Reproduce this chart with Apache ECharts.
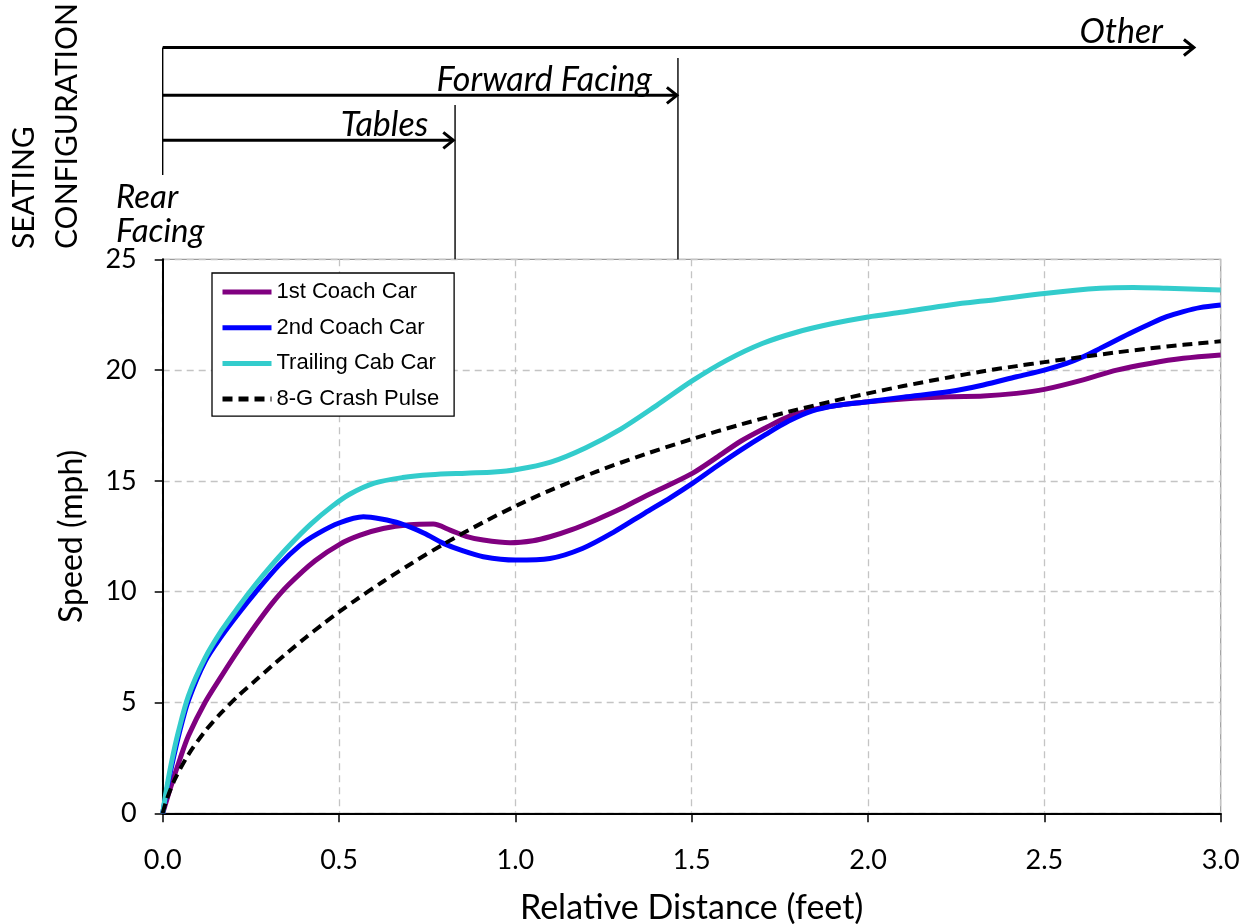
<!DOCTYPE html>
<html>
<head>
<meta charset="utf-8">
<script src="https://cdn.jsdelivr.net/npm/echarts@6/dist/echarts.min.js"></script>
<style>html,body{margin:0;padding:0;background:#fff}#c{width:1251px;height:924px}</style>
</head>
<body>
<div id="c"></div>
<script>
// ---- Data ----
const seriesNames = ['1st Coach Car', '2nd Coach Car', 'Trailing Cab Car', '8-G Crash Pulse'];

const coach1 = [[0,0],[0.021,1.1],[0.049,2.45],[0.073,3.5],[0.12,5.0],[0.167,6.2],[0.214,7.35],[0.262,8.45],[0.309,9.45],[0.356,10.3],[0.432,11.4],[0.503,12.15],[0.56,12.55],[0.625,12.85],[0.7,13.02],[0.767,13.05],[0.815,12.78],[0.86,12.5],[0.909,12.33],[0.985,12.21],[1.05,12.3],[1.098,12.48],[1.16,12.8],[1.23,13.25],[1.3,13.75],[1.367,14.3],[1.44,14.85],[1.503,15.35],[1.57,16.05],[1.64,16.8],[1.71,17.4],[1.775,17.9],[1.84,18.2],[1.91,18.4],[2.0,18.57],[2.1,18.7],[2.232,18.8],[2.327,18.83],[2.421,18.95],[2.5,19.13],[2.61,19.56],[2.705,20.0],[2.799,20.3],[2.894,20.53],[3.0,20.68]];

const coach2 = [[0,0],[0.01,0.9],[0.025,2.1],[0.049,3.75],[0.073,5.1],[0.12,6.85],[0.167,8.0],[0.214,9.0],[0.262,9.95],[0.33,11.2],[0.39,12.1],[0.437,12.6],[0.5,13.1],[0.569,13.38],[0.62,13.28],[0.673,13.08],[0.74,12.65],[0.796,12.18],[0.85,11.85],[0.909,11.58],[1.0,11.43],[1.098,11.5],[1.19,11.95],[1.28,12.7],[1.367,13.55],[1.44,14.25],[1.503,14.9],[1.57,15.65],[1.64,16.4],[1.71,17.1],[1.775,17.7],[1.84,18.15],[1.91,18.4],[2.0,18.57],[2.1,18.78],[2.232,19.03],[2.327,19.33],[2.421,19.7],[2.5,20.0],[2.563,20.3],[2.61,20.6],[2.658,20.98],[2.705,21.36],[2.752,21.73],[2.799,22.08],[2.847,22.41],[2.894,22.64],[2.941,22.82],[3.0,22.94]];

const cabCar = [[0,0],[0.011,1.1],[0.025,2.3],[0.044,3.65],[0.073,5.3],[0.12,7.0],[0.167,8.25],[0.214,9.3],[0.262,10.3],[0.309,11.2],[0.36,12.1],[0.42,13.05],[0.48,13.85],[0.53,14.4],[0.6,14.9],[0.68,15.15],[0.76,15.28],[0.86,15.35],[0.94,15.4],[1.0,15.5],[1.1,15.85],[1.2,16.5],[1.3,17.35],[1.4,18.4],[1.5,19.5],[1.6,20.45],[1.7,21.2],[1.8,21.72],[1.9,22.1],[2.0,22.4],[2.1,22.62],[2.232,22.94],[2.37,23.2],[2.5,23.46],[2.658,23.69],[2.752,23.73],[2.847,23.69],[3.0,23.61]];

const crashPulse = [[0,0],[0.011,0.6],[0.035,1.55],[0.073,2.65],[0.12,3.7],[0.167,4.55],[0.214,5.3],[0.262,5.98],[0.309,6.64],[0.356,7.28],[0.403,7.9],[0.451,8.5],[0.5,9.09],[0.545,9.6],[0.625,10.46],[0.71,11.32],[0.8,12.18],[0.91,13.14],[1.0,13.86],[1.095,14.55],[1.23,15.42],[1.367,16.2],[1.503,16.9],[1.64,17.55],[1.775,18.12],[1.9,18.6],[2.0,18.95],[2.1,19.28],[2.232,19.68],[2.327,19.95],[2.421,20.18],[2.5,20.36],[2.61,20.6],[2.705,20.8],[2.799,20.98],[2.894,21.14],[3.0,21.3]];

const xTicks = [0, 0.5, 1.0, 1.5, 2.0, 2.5, 3.0];
const yTicks = [0, 5, 10, 15, 20, 25];

// Seating configuration annotation (x in feet; level = distance from top of page band)
const seatLabels = ['Tables', 'Forward Facing', 'Other'];
const seatArrows = [[0, 0.824, 140.3], [0, 1.458, 95.3], [0, 2.924, 47.5]];
const seatDividers = [[0, 47.5, 175], [0.829, 105, 259.3], [1.461, 58, 259.3]];
const seatLabelGap = [25, 25, 31]; // style: pixel gap between label and arrow tip

const colors = ['#800080', '#0000FF', '#33CCCC', '#000000'];

const chart = echarts.init(document.getElementById('c'), null, {renderer: 'canvas'});

const gridLeft = 162.7, gridRight = 30.3;

const lineSeries = [coach1, coach2, cabCar, crashPulse].map((d, i) => ({
  name: seriesNames[i],
  type: 'line',
  xAxisIndex: 0, yAxisIndex: 0,
  data: d,
  smooth: 0.3,
  symbol: 'none',
  z: 3 + i,
  lineStyle: {
    color: colors[i],
    width: i === 3 ? 4 : 5,
    type: i === 3 ? [10, 6] : 'solid'
  },
  itemStyle: {color: colors[i]}
}));

const option = {
  animation: false,
  backgroundColor: '#fff',
  grid: [
    {left: gridLeft, right: gridRight, top: 259.3, bottom: 110.7, show: true, borderColor: '#9a9a9a', borderWidth: 1.2,
      containLabel: false, outerBoundsMode: 'none'},
    {left: gridLeft, right: gridRight, top: 0, height: 259.3, containLabel: false, outerBoundsMode: 'none'}
  ],
  xAxis: [
    {
      type: 'value', gridIndex: 0, min: 0, max: 3, interval: 0.5,
      name: 'Relative Distance (feet)', nameLocation: 'middle', nameGap: 78,
      nameTextStyle: {fontFamily: 'Lato', fontSize: 34, color: '#000'},
      axisLine: {show: true, onZero: false, lineStyle: {color: '#000', width: 2}},
      axisTick: {show: true, length: 9, lineStyle: {color: '#000', width: 1.5}},
      axisLabel: {margin: 33, fontFamily: 'Lato', fontSize: 27, color: '#000',
        formatter: v => xTicks.includes(v) ? v.toFixed(1) : ''},
      splitLine: {show: true, lineStyle: {color: '#c4c4c4', width: 1.3, type: [7, 5]}}
    },
    {type: 'value', gridIndex: 1, min: 0, max: 3, show: false}
  ],
  yAxis: [
    {
      type: 'value', gridIndex: 0, min: 0, max: 25, interval: 5,
      name: 'Speed (mph)', nameLocation: 'middle', nameGap: 75,
      nameTextStyle: {fontFamily: 'Lato', fontSize: 32, color: '#000'},
      axisLine: {show: true, lineStyle: {color: '#000', width: 2}},
      axisTick: {show: true, length: 8, lineStyle: {color: '#000', width: 1.5}},
      axisLabel: {margin: 26, fontFamily: 'Lato', fontSize: 27, color: '#000',
        formatter: v => yTicks.includes(v) ? String(v) : ''},
      splitLine: {show: true, lineStyle: {color: '#c4c4c4', width: 1.3, type: [7, 5]}}
    },
    {type: 'value', gridIndex: 1, min: 0, max: 259.3, inverse: true, show: false}
  ],
  legend: {
    data: seriesNames,
    orient: 'vertical',
    left: 212, top: 273,
    padding: [8, 15, 6, 8],
    itemWidth: 49, itemHeight: 14, itemGap: 13.7,
    borderColor: '#000', borderWidth: 1.3,
    backgroundColor: '#fff',
    itemStyle: {opacity: 0},
    lineStyle: {width: 5},
    textStyle: {fontFamily: 'Liberation Sans', fontSize: 22, lineHeight: 22, color: '#000'}
  },
  graphic: [
    {type: 'text', x: 24, y: 249, rotation: Math.PI / 2,
      style: {text: 'SEATING', font: '30px Lato', fill: '#000', align: 'left', verticalAlign: 'middle'}},
    {type: 'text', x: 67, y: 249, rotation: Math.PI / 2,
      style: {text: 'CONFIGURATION', font: '30px Lato', fill: '#000', align: 'left', verticalAlign: 'middle'}},
    {type: 'text', x: 116, y: 197, style: {text: 'Rear', font: 'italic 33px Lato', fill: '#000', align: 'left', verticalAlign: 'middle'}},
    {type: 'text', x: 116, y: 231, style: {text: 'Facing', font: 'italic 33px Lato', fill: '#000', align: 'left', verticalAlign: 'middle'}}
  ],
  series: lineSeries.concat([
    {
      type: 'custom', name: 'seatDividers', xAxisIndex: 1, yAxisIndex: 1,
      data: seatDividers, silent: true,
      renderItem: (params, api) => {
        const a = api.coord([api.value(0), api.value(1)]);
        const b = api.coord([api.value(0), api.value(2)]);
        return {type: 'line', shape: {x1: a[0], y1: a[1], x2: b[0], y2: b[1]},
          style: {stroke: '#000', lineWidth: 1.4}};
      }
    },
    {
      type: 'custom', name: 'seatArrows', xAxisIndex: 1, yAxisIndex: 1,
      data: seatArrows, silent: true,
      renderItem: (params, api) => {
        const s = api.coord([api.value(0), api.value(2)]);
        const e = api.coord([api.value(1), api.value(2)]);
        return {type: 'group', children: [
          {type: 'line', shape: {x1: s[0], y1: s[1], x2: e[0], y2: e[1]}, style: {stroke: '#000', lineWidth: 3}},
          {type: 'polyline', shape: {points: [[e[0] - 10, e[1] - 8], [e[0], e[1]], [e[0] - 10, e[1] + 8]]},
            style: {stroke: '#000', lineWidth: 3, fill: null}},
          {type: 'text', style: {text: seatLabels[params.dataIndex], x: e[0] - seatLabelGap[params.dataIndex], y: e[1] - 15,
            align: 'right', verticalAlign: 'middle', font: 'italic 34px Lato', fill: '#000'}}
        ]};
      }
    }
  ])
};

chart.setOption(option);
</script>
</body>
</html>
